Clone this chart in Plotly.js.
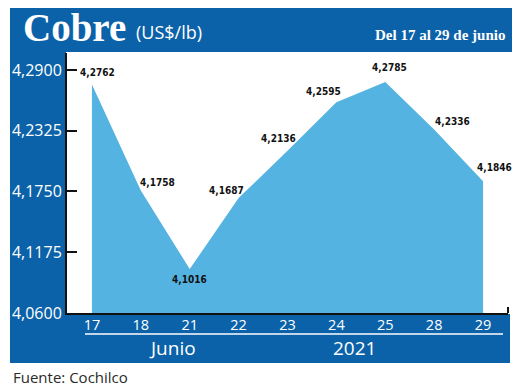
<!DOCTYPE html>
<html>
<head>
<meta charset="utf-8">
<script src="https://cdn.plot.ly/plotly-3.0.1.min.js"></script>
<style>
html,body{margin:0;padding:0;background:#ffffff;}
#chart{width:520px;height:389px;}
</style>
</head>
<body>
<div id="chart"></div>
<script>
// ---- data ----
var days = ["17", "18", "21", "22", "23", "24", "25", "28", "29"];
var prices = [4.2762, 4.1758, 4.1016, 4.1687, 4.2136, 4.2595, 4.2785, 4.2336, 4.1846];
var priceLabels = ["4,2762", "4,1758", "4,1016", "4,1687", "4,2136", "4,2595", "4,2785", "4,2336", "4,1846"];
var yTickVals = [4.06, 4.1175, 4.175, 4.2325, 4.29];
var yTickText = ["4,0600", "4,1175", "4,1750", "4,2325", "4,2900"];
var titleMain = "Cobre";
var titleUnit = "(US$/lb)";
var periodText = "Del 17 al 29 de junio";
var monthText = "Junio";
var yearText = "2021";
var sourceText = "Fuente: Cochilco";

// ---- layout geometry (pixels) ----
var W = 520, H = 389;
var L = 67, R = 508, T = 53, B = 313;
function px(x){ return (x - L) / (R - L); }
function py(y){ return (B - y) / (B - T); }

var blue = "#0b62a9";
var fillBlue = "#55b3e2";
var cond = "DejaVu Sans Condensed, Liberation Sans Narrow, sans-serif";
var sans = "Open Sans, Lato, sans-serif";

// label offsets (pixel) for each data label
var lblDx = [6, 17, 0, -12, -9, -13, 4, 18, 11];
var lblDy = [-12, -8, 10, -8, -12, -11, -15, -8, -14];

var annotations = [];
for (var i = 0; i < days.length; i++) {
  annotations.push({
    x: i, y: prices[i], xref: "x", yref: "y",
    text: "<b>" + priceLabels[i] + "</b>", showarrow: false,
    xshift: lblDx[i], yshift: -lblDy[i],
    font: {family: cond, size: 10, color: "#111111"}
  });
}
annotations.push(
  {xref: "paper", yref: "paper", x: px(21), y: py(28), xanchor: "left", yanchor: "middle",
   text: "<b>" + titleMain + "</b>", showarrow: false,
   font: {family: "Liberation Serif, DejaVu Serif, serif", size: 39, color: "#ffffff"}},
  {xref: "paper", yref: "paper", x: px(134), y: py(32), xanchor: "left", yanchor: "middle",
   text: titleUnit, showarrow: false,
   font: {family: sans, size: 18, color: "#ffffff"}},
  {xref: "paper", yref: "paper", x: px(507), y: py(35), xanchor: "right", yanchor: "middle",
   text: "<b>" + periodText + "</b>", showarrow: false,
   font: {family: "Liberation Serif, DejaVu Serif, serif", size: 15, color: "#ffffff"}},
  {xref: "paper", yref: "paper", x: px(172), y: py(348), xanchor: "center", yanchor: "middle",
   text: monthText, showarrow: false,
   font: {family: sans, size: 19, color: "#ffffff"}},
  {xref: "paper", yref: "paper", x: px(354), y: py(348), xanchor: "center", yanchor: "middle",
   text: yearText, showarrow: false,
   font: {family: sans, size: 19, color: "#ffffff"}},
  {xref: "paper", yref: "paper", x: px(11), y: py(377), xanchor: "left", yanchor: "middle",
   text: sourceText, showarrow: false,
   font: {family: sans, size: 15, color: "#2a2a2a"}}
);

var shapes = [
  // header band
  {type: "rect", xref: "paper", yref: "paper", x0: px(10), x1: px(512), y0: py(52), y1: py(8),
   fillcolor: blue, line: {width: 0}, layer: "below"},
  // left band
  {type: "rect", xref: "paper", yref: "paper", x0: px(10), x1: px(66), y0: py(363), y1: py(52),
   fillcolor: blue, line: {width: 0}, layer: "below"},
  // bottom band
  {type: "rect", xref: "paper", yref: "paper", x0: px(10), x1: px(510), y0: py(363), y1: py(314),
   fillcolor: blue, line: {width: 0}, layer: "below"},
  // white separator line
  {type: "line", xref: "paper", yref: "paper", x0: px(85), x1: px(503), y0: py(334), y1: py(334),
   line: {color: "#ffffff", width: 1.5}},
  // right end tick on x axis
  {type: "line", xref: "paper", yref: "paper", x0: 1, x1: 1, y0: 0, y1: py(307),
   line: {color: "#111111", width: 2}}
];

var trace = {
  type: "scatter", mode: "lines",
  x: days, y: prices,
  fill: "tozeroy", fillcolor: fillBlue,
  line: {width: 0, color: fillBlue},
  hoverinfo: "skip"
};

var layout = {
  width: W, height: H,
  margin: {l: L, r: W - R, t: T, b: H - B, pad: 0},
  paper_bgcolor: "#ffffff",
  plot_bgcolor: "#ffffff",
  showlegend: false,
  xaxis: {
    type: "category", range: [-0.51, 8.51],
    showgrid: false, zeroline: false,
    showline: true, linecolor: "#111111", linewidth: 2,
    ticks: "", tickfont: {family: sans, size: 14.5, color: "#ffffff"},
    ticklabelstandoff: -2,
    layer: "below traces", fixedrange: true
  },
  yaxis: {
    range: [4.06, 4.306],
    tickvals: yTickVals, ticktext: yTickText,
    showgrid: false, zeroline: false,
    showline: true, linecolor: "#111111", linewidth: 2,
    ticks: "inside", ticklen: 10, tickwidth: 2, tickcolor: "#111111",
    tickfont: {family: sans, size: 16, color: "#ffffff"},
    ticklabelstandoff: 0,
    layer: "below traces", fixedrange: true
  },
  shapes: shapes,
  annotations: annotations
};

Plotly.newPlot("chart", [trace], layout, {displayModeBar: false, staticPlot: true});
</script>
</body>
</html>
